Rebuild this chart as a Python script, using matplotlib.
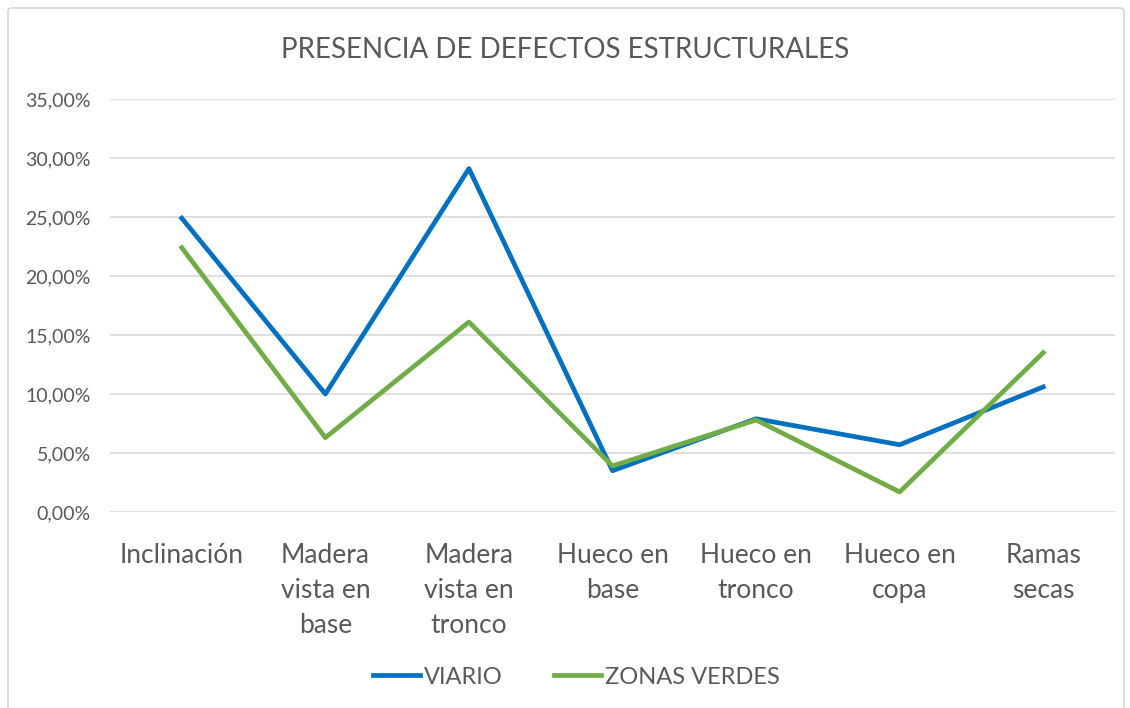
import matplotlib
matplotlib.use("Agg")
import matplotlib.pyplot as plt
from matplotlib.patches import FancyBboxPatch

CATEGORIES = ["Inclinación", "Madera\nvista en\nbase", "Madera\nvista en\ntronco",
              "Hueco en\nbase", "Hueco en\ntronco", "Hueco en\ncopa", "Ramas\nsecas"]
VIARIO = [24.9, 10.0, 29.1, 3.5, 7.9, 5.7, 10.6]
ZONAS_VERDES = [22.4, 6.3, 16.1, 3.9, 7.8, 1.7, 13.5]
Y_TICKS = [0, 5, 10, 15, 20, 25, 30, 35]

BLUE, GREEN, TXT, GRID = "#0070c0", "#70ad47", "#595959", "#d9d9d9"
plt.rcParams["font.family"] = ["Lato", "DejaVu Sans"]

fig = plt.figure(figsize=(11.3, 7.08), dpi=100)
fig.patches.append(FancyBboxPatch((8 / 1130, -10 / 708), 1 - 14 / 1130, 1 + 2 / 708,
                                  boxstyle="round,pad=0,rounding_size=0.004",
                                  transform=fig.transFigure, fill=False,
                                  edgecolor=GRID, linewidth=1.3))
ax = fig.add_axes([110 / 1130, 1 - 512 / 708, 1005 / 1130, 413 / 708])

x = list(range(len(CATEGORIES)))
ax.plot(x, VIARIO, color=BLUE, linewidth=3.4, label="VIARIO", zorder=3)
ax.plot(x, ZONAS_VERDES, color=GREEN, linewidth=3.4, label="ZONAS VERDES", zorder=3)

ax.set_xlim(-0.5, len(CATEGORIES) - 0.5)
ax.set_ylim(0, 35)
ax.set_yticks(Y_TICKS)
ax.set_yticklabels([f"{v:.2f}%".replace(".", ",") for v in Y_TICKS], fontsize=14, color=TXT)
ax.set_xticks(x)
ax.set_xticklabels(CATEGORIES, fontsize=19, color=TXT, linespacing=1.5, va="top")
ax.tick_params(axis="both", length=0)
ax.tick_params(axis="x", pad=22)
ax.tick_params(axis="y", pad=14)
ax.grid(axis="y", color=GRID, linewidth=1.2, zorder=0)
for s in ax.spines.values():
    s.set_visible(False)

fig.text(0.5, 1 - 50 / 708, "PRESENCIA DE DEFECTOS ESTRUCTURALES", ha="center", va="center",
         fontsize=20, color=TXT)
fig.legend(loc="center", bbox_to_anchor=(0.51, 1 - 677 / 708), ncol=2, frameon=False,
           fontsize=17, labelcolor=TXT, handlelength=2.0, handletextpad=0.15,
           columnspacing=2.2)

fig.savefig("out.png", dpi=100)
